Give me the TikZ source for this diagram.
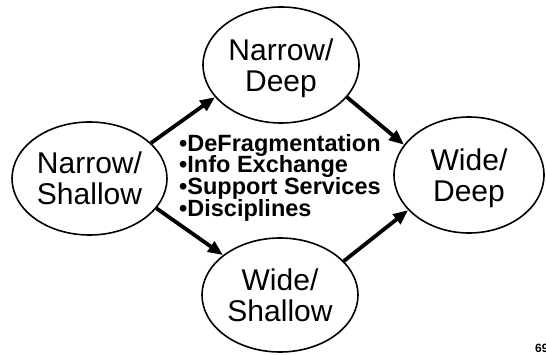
\documentclass[tikz,border=0pt]{standalone}
\usepackage{fontspec}
\setmainfont{Liberation Sans}
\usetikzlibrary{shapes.geometric,arrows.meta}

\begin{document}
\begin{tikzpicture}[x=1pt,y=-1pt]

      \useasboundingbox (0,0) rectangle (546,355);

      \begin{scope}[every node/.style={ellipse,draw,line width=1.6pt,inner sep=0pt,align=center,text depth=0pt,font=\fontsize{30}{31}\selectfont}]
        \node[minimum width=155pt,minimum height=113pt] (ns) at (89.5,178.5) {Narrow/\\Shallow};
        \node[minimum width=156pt,minimum height=116pt] (nd) at (281,65)    {Narrow/\\Deep};
        \node[minimum width=156pt,minimum height=114pt] (ws) at (280,295)   {Wide/\\Shallow};
        \node[minimum width=150pt,minimum height=116pt] (wd) at (469,175)   {Wide/\\Deep};
      \end{scope}

      \node[align=left,anchor=north west,inner sep=0pt,font={\bfseries\fontsize{23.5}{21.7}\selectfont\lineskiplimit -20pt\relax}] (list) at (179,134)
        {•DeFragmentation\\•Info Exchange\\•Support Services\\•Disciplines};

      \node[anchor=base west,inner sep=0pt,font=\bfseries\fontsize{12}{12}\selectfont] (page) at (535,352) {69};

      \begin{scope}[every edge/.style={draw,line width=3.8pt,-{Triangle[length=15pt,width=12pt]}}]
        \path (ns.30)  edge (nd.206);
        \path (nd.334) edge (wd.155);
        \path (ns.336) edge (ws.145);
        \path (ws.28)  edge (wd.210);
      \end{scope}

    \end{tikzpicture}
\end{document}
